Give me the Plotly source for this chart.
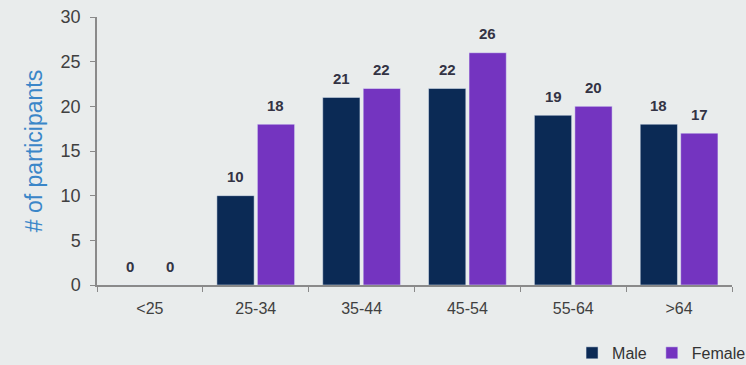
import plotly.graph_objects as go

categories = ["<25", "25-34", "35-44", "45-54", "55-64", ">64"]
male = [0, 10, 21, 22, 19, 18]
female = [0, 18, 22, 26, 20, 17]
y_ticks = [0, 5, 10, 15, 20, 25, 30]

bg = "#e9ecec"
bargap = 0.235
lbl_font = dict(family="Liberation Sans", size=15, color="#333344")
fig = go.Figure()
fig.add_trace(go.Bar(name="Male", x=categories, y=male, marker_color="#0b2a55"))
fig.add_trace(go.Bar(name="Female", x=categories, y=female, marker_color="#7434c0"))

slot = (1 - bargap) / 2
for series, off in ((male, -slot / 2), (female, slot / 2)):
    for i, v in enumerate(series):
        fig.add_annotation(x=i + off, y=v, text=f"<b>{v}</b>", showarrow=False,
                           yanchor="middle", yshift=19, font=lbl_font)

fig.update_layout(
    width=746, height=365,
    margin=dict(l=97, r=14, t=17, b=80, autoexpand=False),
    paper_bgcolor=bg, plot_bgcolor=bg,
    barmode="group", bargap=bargap, bargroupgap=0.08,
    font=dict(family="Liberation Sans", color="#404040"),
    legend=dict(orientation="h", x=1.03, xanchor="right", y=-0.19, yanchor="top",
                font=dict(size=16, color="#333333"), itemwidth=30, tracegroupgap=0,
                bgcolor="rgba(0,0,0,0)"),
    showlegend=True,
)
fig.update_xaxes(showline=True, linecolor="#8a8a8a", linewidth=1.5, ticks="outside",
                 tickson="boundaries", ticklen=5, tickcolor="#8a8a8a", ticklabelstandoff=8,
                 tickfont=dict(size=16, color="#404040"), showgrid=False)
fig.update_yaxes(range=[0, 30], tickvals=y_ticks, showline=True, linecolor="#8a8a8a", linewidth=1.5,
                 ticks="outside", ticklen=5, tickcolor="#8a8a8a", showgrid=False, zeroline=False,
                 ticklabelstandoff=6,
                 tickfont=dict(size=18, color="#404040"),
                 title=dict(text="# of participants", font=dict(size=23, color="#3a86c8"), standoff=12))

fig.write_html("out.html")
